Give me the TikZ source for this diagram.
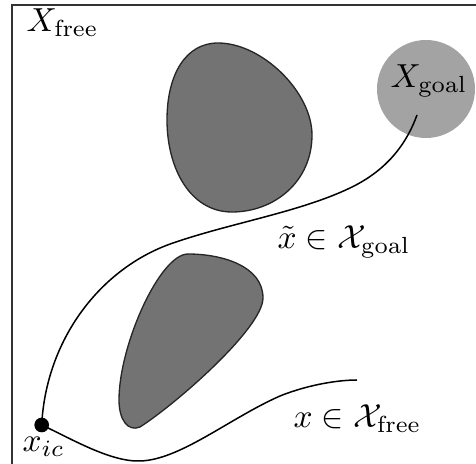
\documentclass[tikz,border=0pt]{standalone}
\usetikzlibrary{calc}
\definecolor{obst}{gray}{0.45}
\definecolor{goalc}{gray}{0.64}
\definecolor{edgec}{gray}{0.15}
\begin{document}
\begin{tikzpicture}[x=0.3pt,y=-0.3pt,
  lab/.style={anchor=base west,inner sep=0pt,font=\fontsize{10}{12}\selectfont},
  obstacle/.style={fill=obst,draw=edgec,line width=0.4pt},
  traj/.style={draw=black,line width=0.45pt}]
\useasboundingbox (0,0) rectangle (476,464);
% frame
\draw[line width=0.4pt,draw=black!80] (12,470) -- (12,5) -- (480,5);
% obstacles
\draw[obstacle] (218,43) .. controls (262,43) and (312,92) .. (312,135)
  .. controls (312,182) and (274,212) .. (232,212)
  .. controls (190,212) and (167,168) .. (167,120)
  .. controls (167,74) and (186,43) .. (218,43) -- cycle;
\draw[obstacle] (188,254) .. controls (222,254) and (263,266) .. (263,298)
  .. controls (263,328) and (176,404) .. (140,427)
  .. controls (128,432) and (119,420) .. (119,400)
  .. controls (119,345) and (160,254) .. (188,254) -- cycle;
% goal region
\node[circle,fill=goalc,inner sep=0pt,minimum size=29.4pt] (goal) at (426,89) {};
\node[lab] (goallab) at (390,88) {$X_{\mathrm{goal}}$};
% start point
\node[circle,fill=black,inner sep=0pt,minimum size=4.4pt] (xic) at (41.7,425) {};
\coordinate (gend) at (417,115);
\coordinate (fend) at (357,380);
% trajectories
\draw[traj] (xic.center) .. controls (46,340) and (100,268) .. (173,243)
  .. controls (231,223) and (300,212) .. (350,188)
  .. controls (390,169) and (408,140) .. (gend);
\draw[traj] (xic.center) .. controls (70,438) and (110,462) .. (140,461)
  .. controls (180,460) and (230,418) .. (280,396)
  .. controls (310,384) and (340,380) .. (fend);
% labels
\node[lab] (xfree) at (26,32) {$X_{\mathrm{free}}$};
\node[lab] (xtil) at (277,249) {$\tilde{x}\in\mathcal{X}_{\mathrm{goal}}$};
\node[lab] (xin) at (293,428) {$x\in\mathcal{X}_{\mathrm{free}}$};
\node[lab] (xiclab) at (22,452) {$x_{ic}$};
\end{tikzpicture}
\end{document}
